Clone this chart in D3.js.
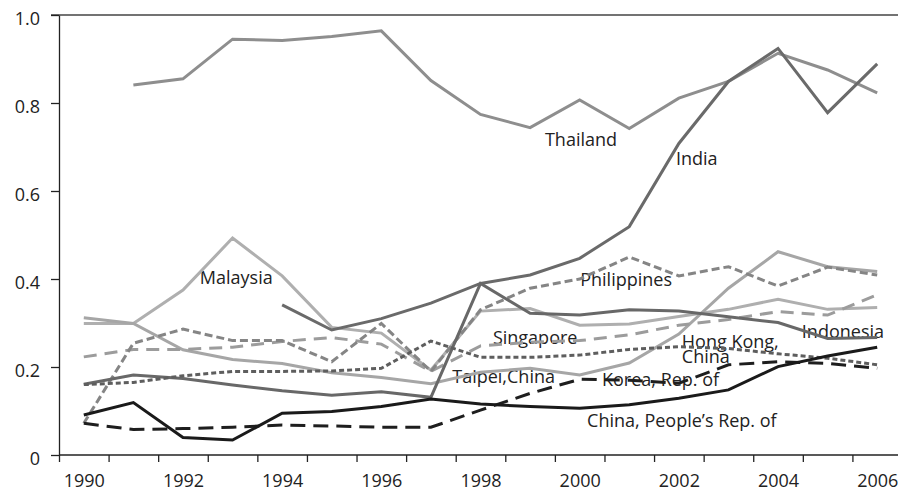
<!DOCTYPE html>
<html>
<head>
<meta charset="utf-8">
<script src="https://cdn.jsdelivr.net/npm/d3@7"></script>
<style>
  body { margin: 0; background: #fff; }
  svg { display: block; }
  text { font-family: "Open Sans", "DejaVu Sans", sans-serif; font-size: 18px; fill: #222; }
</style>
</head>
<body>
<script>
var w = 898;
var h = 495;

// years on the x axis
var years = [1990, 1991, 1992, 1993, 1994, 1995, 1996, 1997, 1998, 1999, 2000, 2001, 2002, 2003, 2004, 2005, 2006];
var yearLabels = [1990, 1992, 1994, 1996, 1998, 2000, 2002, 2004, 2006];
var yTicks = [0, 0.2, 0.4, 0.6, 0.8, 1.0];

// series values (null = no data)
var thailand    = [null, 0.841, 0.855, 0.945, 0.942, 0.951, 0.964, 0.851, 0.774, 0.744, 0.807, 0.742, 0.811, 0.849, 0.913, 0.875, 0.823];
var india       = [null, null, null, null, 0.341, 0.284, 0.310, 0.345, 0.390, 0.409, 0.447, 0.519, 0.708, 0.849, 0.924, 0.778, 0.889];
var malaysia    = [0.299, 0.299, 0.375, 0.493, 0.407, 0.290, 0.277, 0.193, 0.327, 0.333, 0.295, 0.298, 0.315, 0.331, 0.354, 0.331, 0.335];
var philippines = [0.072, 0.254, 0.286, 0.260, 0.260, 0.212, 0.299, 0.190, 0.330, 0.379, 0.400, 0.450, 0.407, 0.428, 0.384, 0.427, 0.409];
var singapore   = [0.223, 0.240, 0.240, 0.245, 0.258, 0.267, 0.252, 0.190, 0.248, 0.256, 0.260, 0.273, 0.295, 0.308, 0.326, 0.318, 0.364];
var taipei      = [0.312, 0.299, 0.239, 0.217, 0.208, 0.187, 0.176, 0.162, 0.188, 0.197, 0.182, 0.209, 0.275, 0.379, 0.462, 0.428, 0.417];
var hongkong    = [0.160, 0.165, 0.180, 0.190, 0.190, 0.191, 0.197, 0.259, 0.222, 0.222, 0.227, 0.240, 0.246, 0.242, 0.230, 0.220, 0.205];
var korea       = [0.072, 0.058, 0.060, 0.063, 0.068, 0.066, 0.063, 0.063, 0.102, 0.140, 0.172, 0.170, 0.163, 0.205, 0.212, 0.208, 0.197];
var china       = [0.091, 0.119, 0.040, 0.034, 0.095, 0.099, 0.110, 0.127, 0.116, 0.110, 0.106, 0.114, 0.129, 0.148, 0.201, 0.225, 0.245];
var indonesia   = [0.161, 0.182, 0.174, 0.159, 0.146, 0.136, 0.144, 0.131, 0.390, 0.322, 0.318, 0.330, 0.327, 0.314, 0.301, 0.265, 0.267];

// drawing order: light ones first, black last
var series = [
  {name: "Malaysia",    values: malaysia,    color: "#afafaf", dash: null},
  {name: "Taipei",      values: taipei,      color: "#a6a6a6", dash: null},
  {name: "Thailand",    values: thailand,    color: "#8e8e8e", dash: null},
  {name: "Singapore",   values: singapore,   color: "#9c9c9c", dash: "13,8"},
  {name: "Philippines", values: philippines, color: "#858585", dash: "8,4"},
  {name: "India",       values: india,       color: "#6a6a6a", dash: null},
  {name: "Indonesia",   values: indonesia,   color: "#686868", dash: null},
  {name: "Hong Kong",   values: hongkong,    color: "#5e5e5e", dash: "5,3"},
  {name: "Korea",       values: korea,       color: "#1e1e1e", dash: "15,8"},
  {name: "China",       values: china,       color: "#1a1a1a", dash: null}
];

// label texts and where they sit (in data units: year, value)
var labels = [
  {text: "Thailand", x: 1999.30, y: 0.702},
  {text: "India", x: 2001.94, y: 0.659},
  {text: "Malaysia", x: 1992.34, y: 0.389},
  {text: "Philippines", x: 2000.01, y: 0.384},
  {text: "Singapore", x: 1998.25, y: 0.252},
  {text: "Taipei,China", x: 1997.43, y: 0.164},
  {text: "Hong Kong,", x: 2002.06, y: 0.243},
  {text: "China", x: 2002.06, y: 0.209},
  {text: "Korea, Rep. of", x: 2000.45, y: 0.157},
  {text: "China, People\u2019s Rep. of", x: 2000.15, y: 0.064},
  {text: "Indonesia", x: 2004.48, y: 0.266}
];

var plotLeft = 59, plotRight = 902, plotTop = 15, plotBottom = 455;

var x = d3.scaleLinear()
  .domain([years[0] - 0.5, years[years.length - 1] + 0.5])
  .range([plotLeft, plotRight]);

var y = d3.scaleLinear()
  .domain([0, 1])
  .range([plotBottom, plotTop]);

var svg = d3.select("body").append("svg")
  .attr("width", w)
  .attr("height", h);

// top frame line
svg.append("line")
  .attr("x1", plotLeft - 8).attr("x2", w)
  .attr("y1", y(1)).attr("y2", y(1))
  .attr("stroke", "#444").attr("stroke-width", 1.3);

// y axis
var yAxis = svg.append("g")
  .attr("transform", "translate(" + plotLeft + ",0)")
  .call(d3.axisLeft(y)
    .tickValues(yTicks)
    .tickSize(8)
    .tickSizeOuter(0)
    .tickPadding(11)
    .tickFormat((d) => d === 0 ? "0" : d3.format(".1f")(d)));
yAxis.select(".domain").attr("stroke", "#222").attr("stroke-width", 1.3);
yAxis.selectAll(".tick line").attr("stroke", "#222").attr("stroke-width", 1.3);
yAxis.selectAll(".tick text").attr("dy", "0.55em");
yAxis.attr("font-size", null).attr("font-family", null);

// x axis: ticks between years
var bounds = years.map((d) => d - 0.5);
var xAxis = svg.append("g")
  .attr("transform", "translate(0," + plotBottom + ")")
  .call(d3.axisBottom(x)
    .tickValues(bounds)
    .tickSize(7)
    .tickSizeOuter(0)
    .tickFormat(""));
xAxis.select(".domain").attr("stroke", "#222").attr("stroke-width", 1.3).attr("d", "M" + plotLeft + ",0H" + w);
xAxis.selectAll(".tick line").attr("stroke", "#222").attr("stroke-width", 1.3);

var xLab = svg.append("g")
  .attr("transform", "translate(0," + plotBottom + ")")
  .call(d3.axisBottom(x)
    .tickValues(yearLabels)
    .tickSize(0)
    .tickFormat(d3.format("d")));
xLab.select(".domain").remove();
xLab.attr("font-size", null).attr("font-family", null);
xLab.selectAll(".tick text").attr("y", 32).attr("dy", 0);

// labels
svg.selectAll(".lab")
  .data(labels)
  .enter()
    .append("text")
    .classed("lab", true)
    .attr("x", (d) => x(d.x))
    .attr("y", (d) => y(d.y))
    .text((d) => d.text);

// lines
var line = d3.line()
  .defined((d) => d != null)
  .x((d, i) => x(years[i]))
  .y((d) => y(d));

svg.selectAll(".series")
  .data(series)
  .enter()
    .append("path")
    .classed("series", true)
    .attr("d", (d) => line(d.values))
    .attr("fill", "none")
    .attr("stroke", (d) => d.color)
    .attr("stroke-width", 3)
    .attr("stroke-dasharray", (d) => d.dash)
    .attr("stroke-linejoin", "miter");
</script>
</body>
</html>
